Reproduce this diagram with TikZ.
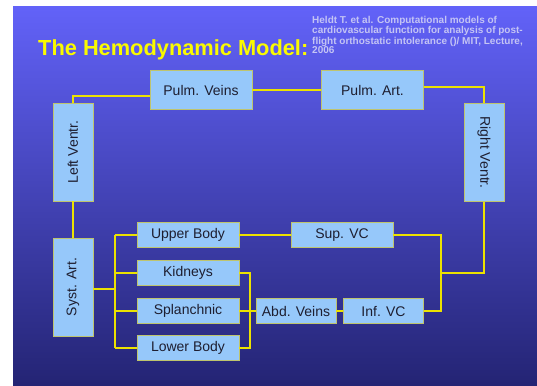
\documentclass[tikz,border=0pt]{standalone}
\usepackage{fontspec}
\setmainfont{Liberation Sans}
\usepackage{tikz}
\definecolor{slidetop}{RGB}{98,98,248}
\definecolor{slidebot}{RGB}{36,36,116}
\definecolor{boxfill}{RGB}{150,200,250}
\definecolor{boxline}{RGB}{190,196,110}
\definecolor{boxtext}{RGB}{30,30,48}
\definecolor{vena}{RGB}{236,226,0}
\definecolor{titulo}{RGB}{250,250,0}
\definecolor{cita}{RGB}{196,196,244}

\begin{document}
\begin{tikzpicture}[x=1pt,y=-1pt,
  organ/.style={draw=boxline,line width=0.8pt,fill=boxfill,text=boxtext,inner sep=0pt,
    font=\fontsize{14}{16}\selectfont,minimum width=102pt,minimum height=25.5pt},
  tall/.style={organ,minimum width=40pt,minimum height=98pt},
  vessel/.style={draw=vena,line width=2pt}]
  \useasboundingbox (0,0) rectangle (537,385);
  \fill[white] (0,0) rectangle (537,385);
  \shade[top color=slidetop,bottom color=slidebot] (13,7) rectangle (537,385);
  \node[anchor=base west,inner sep=0pt,text=titulo,font=\fontsize{21.8}{24}\selectfont\bfseries] (title) at (38,56) {The Hemodynamic Model:};
  \node[anchor=north west,inner sep=0pt,align=left,text=cita,font=\fontsize{10}{9.2}\selectfont\bfseries] (ref) at (312,16)
    {Heldt T. et al. Computational models of\\cardiovascular function for analysis of post-\\flight orthostatic intolerance ()/ MIT, Lecture,\\2006};
  \node[organ,minimum height=39pt] (PV) at (201,90) {Pulm. Veins};
  \node[organ,minimum height=39pt] (PA) at (372.5,90) {Pulm. Art.};
  \node[tall] (LV) at (73,152) {\rotatebox{90}{Left Ventr.}};
  \node[tall] (RV) at (484,152.5) {\rotatebox{-90}{Right Ventr.}};
  \node[tall] (SA) at (73,287) {\rotatebox{90}{Syst. Art.}};
  \node[organ] (UB) at (188,235) {Upper Body};
  \node[organ] (KI) at (188,273) {Kidneys};
  \node[organ] (SP) at (188,311) {Splanchnic};
  \node[organ] (LB) at (188,348) {Lower Body};
  \node[organ] (SVC) at (342,235) {Sup. VC};
  \node[organ,minimum width=80pt] (AV) at (296,311) {Abd. Veins};
  \node[organ,minimum width=80pt] (IVC) at (383.5,311) {Inf. VC};
  \coordinate (art) at (115,289);
  \coordinate (abd) at (250,273);
  \coordinate (cava) at (441,273);
  \draw[vessel] ([yshift=-6pt]PV.west) -| (LV.north);
  \draw[vessel] (PV.east) -- (PA.west);
  \draw[vessel] ([yshift=3pt]PA.east) -| (RV.north);
  \draw[vessel] (LV.south) -- (SA.north);
  \draw[vessel] (SA.east |- art) -- (art);
  \draw[vessel] (UB.west -| art) -- (LB.west -| art);
  \foreach \n in {UB,KI,SP,LB}
    \draw[vessel] (\n.west -| art) -- (\n.west);
  \draw[vessel] (KI.east) -- (abd) |- (LB.east);
  \draw[vessel] (SP.east) -- (AV.west);
  \draw[vessel] (AV.east) -- (IVC.west);
  \draw[vessel] (UB.east) -- (SVC.west);
  \draw[vessel] (SVC.east) -| (cava) |- (IVC.east);
  \draw[vessel] (cava) -| (RV.south);
\end{tikzpicture}
\end{document}
